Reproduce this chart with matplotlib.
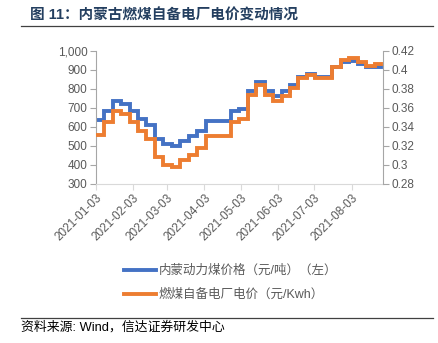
import matplotlib
matplotlib.use("Agg")
import matplotlib.pyplot as plt
import matplotlib.ticker as mticker
import pandas as pd
from matplotlib.lines import Line2D

plt.rcParams['font.family'] = ['Liberation Sans', 'Noto Sans CJK SC', 'DejaVu Sans']

# ---- data (weekly) ----
start_date = "2021-01-03"
end_date = "2021-08-27"
coal_price = [635, 685, 735, 720, 682, 642, 610, 537, 509, 500, 528, 553, 579,
              632, 632, 632, 684, 695, 790, 835, 791, 765, 791, 821, 861, 877,
              865, 865, 914, 940, 947, 930, 914, 918]
power_price = [0.332, 0.345, 0.357, 0.354, 0.345, 0.336, 0.327, 0.308, 0.300,
               0.298, 0.305, 0.311, 0.318, 0.331, 0.331, 0.331, 0.345, 0.348,
               0.374, 0.384, 0.374, 0.367, 0.373, 0.381, 0.392, 0.395, 0.392,
               0.392, 0.403, 0.410, 0.413, 0.408, 0.404, 0.406]
tick_dates = ["2021-01-03", "2021-02-03", "2021-03-03", "2021-04-03",
              "2021-05-03", "2021-06-03", "2021-07-03", "2021-08-03"]
label_coal = "内蒙动力煤价格（元/吨）（左）"
label_power = "燃煤自备电厂电价（元/Kwh）"
title = "图 11：内蒙古燃煤自备电厂电价变动情况"
source = "资料来源: Wind，信达证券研发中心"

dates = list(pd.date_range(start_date, periods=len(coal_price), freq="7D"))
xs = dates + [pd.Timestamp(end_date)]
ys1 = coal_price + [coal_price[-1]]
ys2 = power_price + [power_price[-1]]

BLUE = "#4472C4"
ORANGE = "#ED7D31"
GRAY = "#595959"

fig = plt.figure(figsize=(4.38, 3.43), dpi=100)
ax = fig.add_axes([0.2185, 0.4636, 0.6559, 0.3878])
ax2 = ax.twinx()

ax.plot(xs, ys1, drawstyle="steps-post", color=BLUE, lw=2.8, solid_joinstyle="miter")
ax2.plot(xs, ys2, drawstyle="steps-post", color=ORANGE, lw=2.8, solid_joinstyle="miter")

ax.set_xlim(pd.Timestamp("2021-01-03"), pd.Timestamp("2021-08-29"))
ax.set_ylim(300, 1000)
ax.set_yticks(range(300, 1001, 100))
ax.yaxis.set_major_formatter(mticker.FuncFormatter(lambda v, p: f"{int(v):,}"))
ax2.set_ylim(0.28, 0.42)
ax2.set_yticks([0.28, 0.30, 0.32, 0.34, 0.36, 0.38, 0.40, 0.42])
ax2.yaxis.set_major_formatter(mticker.FuncFormatter(lambda v, p: f"{round(v, 2):g}"))

ax.set_xticks([pd.Timestamp(d) for d in tick_dates])
ax.set_xticklabels(tick_dates, rotation=45, ha="right", rotation_mode="anchor")

for a in (ax, ax2):
    for s in a.spines.values():
        s.set_visible(False)
ax.spines["left"].set_visible(True)
ax.spines["left"].set_color("#A6A6A6")
ax.spines["bottom"].set_visible(True)
ax.spines["bottom"].set_color("#D9D9D9")
ax2.spines["right"].set_visible(True)
ax2.spines["right"].set_color("#A6A6A6")

ax.tick_params(axis="y", colors="#A6A6A6", labelcolor=GRAY, labelsize=8.5, length=4, width=0.8, pad=2)
ax.tick_params(axis="x", colors="#D9D9D9", labelcolor=GRAY, labelsize=8.5, length=4, width=0.8, pad=2)
ax2.tick_params(axis="y", colors="#A6A6A6", labelcolor=GRAY, labelsize=8.5, length=4, width=0.8, pad=2)

# legend
handles = [Line2D([0], [0], color=BLUE, lw=2.8), Line2D([0], [0], color=ORANGE, lw=2.8)]
leg = fig.legend(handles, [label_coal, label_power], loc="center left",
                 bbox_to_anchor=(0.283, 0.175), frameon=False, fontsize=9,
                 handlelength=2.6, handletextpad=0.15, labelspacing=0.95,
                 borderaxespad=0, borderpad=0)
for t in leg.get_texts():
    t.set_color(GRAY)

# title and separators
fig.text(0.068, 1 - 15 / 343, title, fontsize=10.5, fontweight="bold",
         color="#243F60", va="center", ha="left")
fig.add_artist(Line2D([21 / 438, 433 / 438], [1 - 26 / 343, 1 - 26 / 343],
                      color="#404040", lw=0.9))
fig.add_artist(Line2D([21 / 438, 433 / 438], [1 - 318 / 343, 1 - 318 / 343],
                      color="#404040", lw=0.9))
fig.text(21 / 438, 1 - 327 / 343, source, fontsize=9.3, color="black",
         va="center", ha="left")

fig.savefig("out.png", dpi=100)
